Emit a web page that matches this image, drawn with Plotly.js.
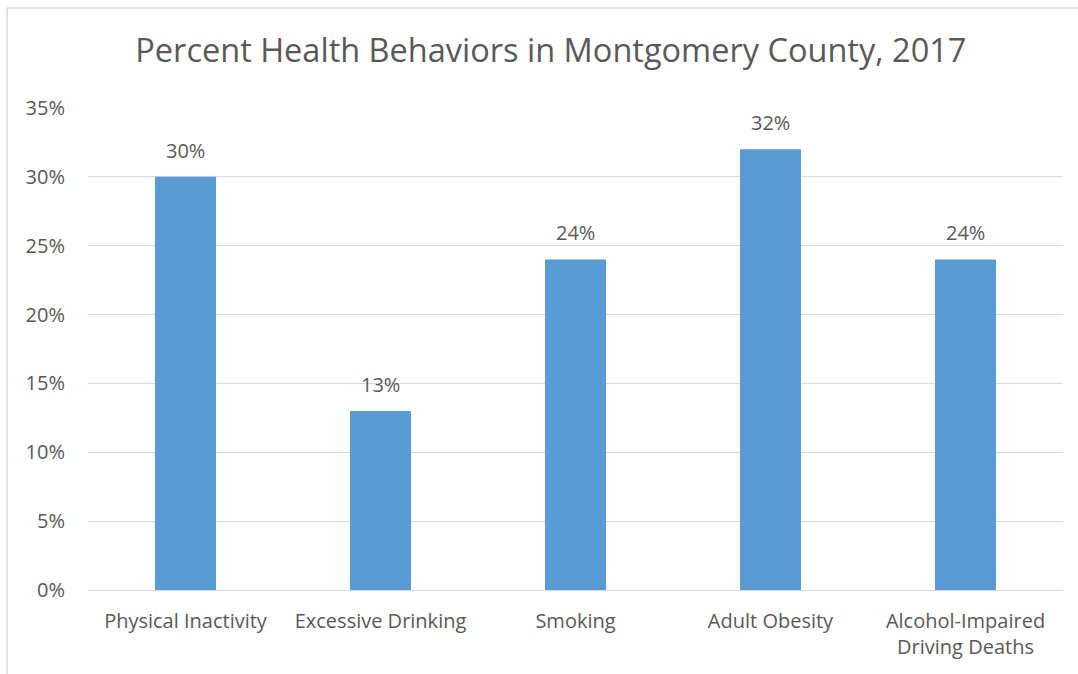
<!DOCTYPE html>
<html>
<head>
<meta charset="utf-8">
<script src="https://cdn.plot.ly/plotly-3.0.1.min.js"></script>
<style>html,body{margin:0;padding:0;background:#fff;}#chart{width:1078px;height:674px;}</style>
</head>
<body>
<div id="chart"></div>
<script>
const categories = ["Physical Inactivity", "Excessive Drinking", "Smoking", "Adult Obesity", "Alcohol-Impaired<br>Driving Deaths"];
const values = [0.30, 0.13, 0.24, 0.32, 0.24];
const labels = ["30%", "13%", "24%", "32%", "24%"];
const yTickVals = [0, 0.05, 0.10, 0.15, 0.20, 0.25, 0.30, 0.35];
const yTickText = ["0%", "5%", "10%", "15%", "20%", "25%", "30%", "35%"];

const font = "'Open Sans', 'DejaVu Sans', sans-serif";
const textColor = "#595959";

const trace = {
  type: "bar",
  x: categories,
  y: values,
  marker: {color: "#5B9BD5"},
  hoverinfo: "none"
};

const annotations = categories.map((c, i) => ({
  x: c, y: values[i], xref: "x", yref: "y",
  text: labels[i], showarrow: false, yanchor: "bottom", yshift: 11,
  font: {family: font, size: 20, color: textColor}
}));

const layout = {
  width: 1078, height: 674,
  margin: {l: 88, r: 15, t: 108, b: 84},
  paper_bgcolor: "#fff", plot_bgcolor: "#fff",
  bargap: 0.687,
  showlegend: false,
  title: {text: "Percent Health Behaviors in Montgomery County, 2017", x: 0.511, xanchor: "center", y: 0.925, yanchor: "middle", font: {family: font, size: 32.5, color: textColor}},
  xaxis: {
    showgrid: false, showline: true, linecolor: "#D9D9D9", linewidth: 1,
    ticks: "", ticklabelstandoff: 13,
    tickfont: {family: font, size: 20, color: textColor}
  },
  yaxis: {
    range: [0, 0.35], tickvals: yTickVals, ticktext: yTickText,
    showgrid: true, gridcolor: "#D9D9D9", gridwidth: 1, zeroline: false,
    showline: false, ticks: "", ticklabelstandoff: 22,
    tickfont: {family: font, size: 20, color: textColor}
  },
  annotations: annotations,
  shapes: [
    {type: "line", xref: "paper", yref: "paper", x0: (7-88)/975, x1: (1078-88)/975, y0: (674-84-8)/482, y1: (674-84-8)/482, line: {color: "#D9D9D9", width: 1.5}},
    {type: "line", xref: "paper", yref: "paper", x0: (7-88)/975, x1: (7-88)/975, y0: (674-84-8)/482, y1: -84/482, line: {color: "#D9D9D9", width: 1.5}}
  ]
};

Plotly.newPlot("chart", [trace], layout, {displayModeBar: false, staticPlot: true});
</script>
</body>
</html>
